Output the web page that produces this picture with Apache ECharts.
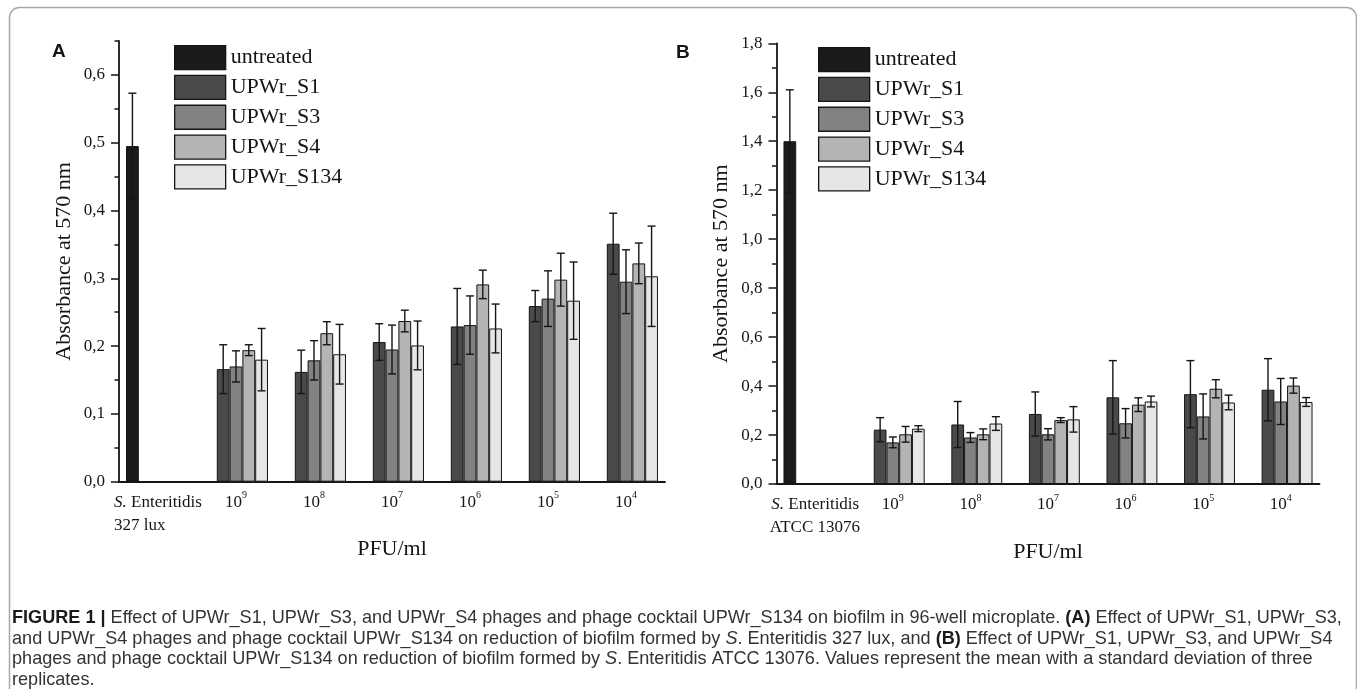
<!DOCTYPE html>
<html>
<head>
<meta charset="utf-8">
<title>Biofilm reduction</title>
<script src="https://cdn.jsdelivr.net/npm/echarts@6/dist/echarts.min.js"></script>
<style>
html, body { margin: 0; padding: 0; background: #fff; }
#main { width: 1357px; height: 689px; }
</style>
</head>
<body>
<div id="main"></div>
<script>
// series names and fill colours (untreated first, it takes the first slot of every group)
var seriesNames = ['untreated', 'UPWr_S1', 'UPWr_S3', 'UPWr_S4', 'UPWr_S134'];
var seriesColors = ['#1b1b1b', '#4a4a4a', '#828282', '#b4b4b4', '#e6e6e6'];

var categoriesA = ['S. Enteritidis\n327 lux', '10^9', '10^8', '10^7', '10^6', '10^5', '10^4'];
var categoriesB = ['S. Enteritidis\nATCC 13076', '10^9', '10^8', '10^7', '10^6', '10^5', '10^4'];

var yTicksA = [0, 0.1, 0.2, 0.3, 0.4, 0.5, 0.6];
var yTicksB = [0, 0.2, 0.4, 0.6, 0.8, 1.0, 1.2, 1.4, 1.6, 1.8];
var yMaxA = 0.65;
var yMaxB = 1.8;

// panel A - S. Enteritidis 327 lux (means)
var untreatedA = [0.495, null, null, null, null, null, null];
var s1A   = [null, 0.166, 0.162, 0.206, 0.229, 0.259, 0.351];
var s3A   = [null, 0.170, 0.179, 0.195, 0.231, 0.270, 0.295];
var s4A   = [null, 0.194, 0.219, 0.237, 0.291, 0.298, 0.322];
var s134A = [null, 0.180, 0.188, 0.201, 0.226, 0.267, 0.303];
// panel A standard deviations
var untreatedAErr = [0.078, null, null, null, null, null, null];
var s1AErr   = [null, 0.036, 0.032, 0.027, 0.056, 0.023, 0.045];
var s3AErr   = [null, 0.023, 0.029, 0.036, 0.043, 0.041, 0.047];
var s4AErr   = [null, 0.008, 0.017, 0.016, 0.021, 0.039, 0.030];
var s134AErr = [null, 0.046, 0.044, 0.036, 0.036, 0.057, 0.074];

// panel B - S. Enteritidis ATCC 13076 (means)
var untreatedB = [1.400, null, null, null, null, null, null];
var s1B   = [null, 0.222, 0.243, 0.286, 0.354, 0.367, 0.385];
var s3B   = [null, 0.170, 0.190, 0.203, 0.248, 0.276, 0.337];
var s4B   = [null, 0.203, 0.203, 0.261, 0.324, 0.389, 0.402];
var s134B = [null, 0.226, 0.247, 0.264, 0.337, 0.333, 0.335];
// panel B standard deviations
var untreatedBErr = [0.210, null, null, null, null, null, null];
var s1BErr   = [null, 0.049, 0.094, 0.090, 0.150, 0.137, 0.127];
var s3BErr   = [null, 0.022, 0.020, 0.023, 0.060, 0.092, 0.094];
var s4BErr   = [null, 0.032, 0.022, 0.010, 0.028, 0.037, 0.031];
var s134BErr = [null, 0.012, 0.028, 0.052, 0.022, 0.030, 0.018];

var SERIF = '"Liberation Serif", "Times New Roman", serif';
var SANS = '"Liberation Sans", Arial, sans-serif';
var INK = '#151515';
var BAR_GAP = 0.18;
var LABEL_SIZE = 17;

var chart = echarts.init(document.getElementById('main'));
var measureCtx = document.createElement('canvas').getContext('2d');

function textWidth(font, s) {
	measureCtx.font = font;
	return measureCtx.measureText(s).width;
}

function barValues(arr) {
	return arr.map(function(v) { return v == null ? '-' : v; });
}

function errorData(means, errs) {
	var out = [];
	means.forEach(function(arr, s) {
		arr.forEach(function(m, c) {
			if (m == null) return;
			out.push([c, s, m - errs[s][c], m + errs[s][c]]);
		});
	});
	return out;
}

function renderError(params, api) {
	var c = api.value(0), s = api.value(1);
	var band = api.size([1, 0])[0];
	var groupW = band * (1 - BAR_GAP);
	var barW = groupW / seriesNames.length;
	var x = api.coord([c, 0])[0] - groupW / 2 + (s + 0.5) * barW;
	var lo = api.coord([c, api.value(2)])[1];
	var hi = api.coord([c, api.value(3)])[1];
	var st = { stroke: INK, lineWidth: 1.4 };
	return {
		type: 'group',
		children: [
			{ type: 'line', shape: { x1: x, y1: lo, x2: x, y2: hi }, style: st },
			{ type: 'line', shape: { x1: x - 4, y1: hi, x2: x + 4, y2: hi }, style: st },
			{ type: 'line', shape: { x1: x - 4, y1: lo, x2: x + 4, y2: lo }, style: st }
		]
	};
}

// strain label: italic "S.", second line left aligned under the first
function strainWidth(cats) {
	var w = 0;
	cats.forEach(function(v) {
		if (v.indexOf('\n') < 0) return;
		var lines = v.split('\n');
		var first = textWidth('italic ' + LABEL_SIZE + 'px ' + SERIF, 'S.') +
			textWidth(LABEL_SIZE + 'px ' + SERIF, lines[0].replace(/^S\./, ''));
		w = Math.max(w, first, textWidth(LABEL_SIZE + 'px ' + SERIF, lines[1]));
	});
	return Math.ceil(w);
}

function categoryLabel(v) {
	if (v.indexOf('^') > 0) {
		var p = v.split('^');
		return '{n|' + p[0] + '}{sup|' + p[1] + '}';
	}
	var lines = v.split('\n');
	return '{it|S.}{n|' + lines[0].replace(/^S\./, '') + '}\n{l2|' + lines[1] + '}';
}

function commaLabel(v) {
	return v.toFixed(1).replace('.', ',');
}

function labelRich(cats) {
	return {
		n: { fontFamily: SERIF, fontSize: LABEL_SIZE, color: INK, lineHeight: 23 },
		it: { fontFamily: SERIF, fontSize: LABEL_SIZE, fontStyle: 'italic', color: INK, lineHeight: 23 },
		l2: { fontFamily: SERIF, fontSize: LABEL_SIZE, color: INK, lineHeight: 23,
			width: strainWidth(cats), align: 'left' },
		sup: { fontFamily: SERIF, fontSize: 10, color: INK, lineHeight: 13, verticalAlign: 'top' }
	};
}

var layouts = [
	{ grid: { left: 119, top: 41, width: 546, height: 440.7 }, legend: { left: 169, top: 40 } },
	{ grid: { left: 776.5, top: 43.3, width: 543, height: 440.7 }, legend: { left: 813, top: 42 } }
];

var panels = [
	{ cats: categoriesA, ticks: yTicksA, max: yMaxA,
	  means: [untreatedA, s1A, s3A, s4A, s134A],
	  errs: [untreatedAErr, s1AErr, s3AErr, s4AErr, s134AErr] },
	{ cats: categoriesB, ticks: yTicksB, max: yMaxB,
	  means: [untreatedB, s1B, s3B, s4B, s134B],
	  errs: [untreatedBErr, s1BErr, s3BErr, s4BErr, s134BErr] }
];

var grids = [], xAxes = [], yAxes = [], legends = [], series = [];

panels.forEach(function(p, i) {
	var step = p.ticks[1] - p.ticks[0];
	grids.push(layouts[i].grid);

	// main category axis: long ticks under the labels
	xAxes.push({
		type: 'category', gridIndex: i, data: p.cats,
		axisLine: { lineStyle: { color: INK, width: 1.8 } },
		axisTick: { alignWithLabel: true, length: 8, interval: 0, lineStyle: { color: INK, width: 1.5 } },
		axisLabel: { interval: 0, margin: 9, formatter: categoryLabel, rich: labelRich(p.cats) },
		name: 'PFU/ml', nameLocation: 'middle', nameGap: 49,
		nameTextStyle: { fontFamily: SERIF, fontSize: 22, color: INK }
	});
	// short ticks between categories
	xAxes.push({
		type: 'category', gridIndex: i, data: p.cats, position: 'bottom',
		axisLine: { show: false }, axisLabel: { show: false },
		axisTick: { length: 4.5, interval: 0, lineStyle: { color: INK, width: 1.5 } }
	});

	yAxes.push({
		type: 'value', gridIndex: i, min: p.ticks[0], max: p.max, interval: step,
		axisLine: { show: true, lineStyle: { color: INK, width: 1.8 } },
		axisTick: { show: true, length: 8, lineStyle: { color: INK, width: 1.5 } },
		axisLabel: { margin: 14, formatter: commaLabel, showMaxLabel: p.max === p.ticks[p.ticks.length - 1],
			fontFamily: SERIF, fontSize: LABEL_SIZE, color: INK },
		splitLine: { show: false },
		name: 'Absorbance at 570 nm', nameLocation: 'middle', nameGap: 44,
		nameTextStyle: { fontFamily: SERIF, fontSize: 22, color: INK }
	});
	yAxes.push({
		type: 'value', gridIndex: i, min: p.ticks[0], max: p.max, interval: step / 2, position: 'left',
		axisLine: { show: false }, axisLabel: { show: false }, splitLine: { show: false },
		axisTick: { show: true, length: 4.5, lineStyle: { color: INK, width: 1.5 } }
	});

	legends.push({
		left: layouts[i].legend.left, top: layouts[i].legend.top, orient: 'vertical',
		icon: 'rect', itemWidth: 51, itemHeight: 24, itemGap: 4.5, selectedMode: false,
		itemStyle: { borderColor: INK, borderWidth: 1.3 },
		data: seriesNames,
		textStyle: { fontFamily: SERIF, fontSize: 22, color: INK, lineHeight: 24 }
	});

	p.means.forEach(function(arr, s) {
		series.push({
			type: 'bar', name: seriesNames[s],
			xAxisIndex: 2 * i, yAxisIndex: 2 * i,
			data: barValues(arr),
			barGap: '0%', barCategoryGap: (BAR_GAP * 100) + '%',
			itemStyle: { color: seriesColors[s], borderColor: INK, borderWidth: 1 },
			emphasis: { disabled: true }
		});
	});

	series.push({
		type: 'custom', name: 'sd' + i,
		xAxisIndex: 2 * i, yAxisIndex: 2 * i,
		renderItem: renderError,
		encode: { x: 0, y: [2, 3] },
		data: errorData(p.means, p.errs),
		z: 5, silent: true
	});
});

// figure caption, one entry per printed line: [style, text] pieces
var captionLines = [
	[['b', 'FIGURE 1 |'], ['n', ' Effect of UPWr_S1, UPWr_S3, and UPWr_S4 phages and phage cocktail UPWr_S134 on biofilm in 96-well microplate. '], ['b', '(A)'], ['n', ' Effect of UPWr_S1, UPWr_S3,']],
	[['n', 'and UPWr_S4 phages and phage cocktail UPWr_S134 on reduction of biofilm formed by '], ['i', 'S'], ['n', '. Enteritidis 327 lux, and '], ['b', '(B)'], ['n', ' Effect of UPWr_S1, UPWr_S3, and UPWr_S4']],
	[['n', 'phages and phage cocktail UPWr_S134 on reduction of biofilm formed by '], ['i', 'S'], ['n', '. Enteritidis ATCC 13076. Values represent the mean with a standard deviation of three']],
	[['n', 'replicates.']]
];
var CAPTION_LEFT = 12;
var CAPTION_RIGHT = 1343;

function pieceFont(style, size) {
	return (style === 'b' ? 'bold ' : style === 'i' ? 'italic ' : '') + size + 'px ' + SANS;
}

// size the caption so that its first line fills the frame width
var w16 = 0;
captionLines[0].forEach(function(pc) { w16 += textWidth(pieceFont(pc[0], 16), pc[1]); });
var capSize = Math.round(16 * (CAPTION_RIGHT - CAPTION_LEFT) / w16 * 10) / 10;

var caption = captionLines.map(function(line) {
	return line.map(function(pc) { return '{' + pc[0] + '|' + pc[1] + '}'; }).join('');
}).join('\n');

var capFont = { fontFamily: SANS, fontSize: capSize, lineHeight: 20.5 };

chart.setOption({
	animation: false,
	title: [
		{ text: 'A', left: 47, top: 37, textStyle: { fontFamily: SANS, fontWeight: 'bold', fontSize: 19, color: INK } },
		{ text: 'B', left: 671, top: 38, textStyle: { fontFamily: SANS, fontWeight: 'bold', fontSize: 19, color: INK } }
	],
	legend: legends,
	grid: grids,
	xAxis: xAxes,
	yAxis: yAxes,
	series: series,
	graphic: [
		{
			type: 'rect', left: 7, top: 5, silent: true,
			shape: { width: 1347, height: 760, r: 10 },
			style: { fill: 'none', stroke: '#a8a8a8', lineWidth: 1.5 }
		},
		{
			type: 'text', left: CAPTION_LEFT, top: 608, silent: true,
			style: {
				text: caption,
				fill: '#333',
				fontFamily: SANS, fontSize: capSize, lineHeight: 20.5,
				rich: {
					n: echarts.util.extend({ fill: '#333' }, capFont),
					b: echarts.util.extend({ fill: '#1a1a1a', fontWeight: 'bold' }, capFont),
					i: echarts.util.extend({ fill: '#333', fontStyle: 'italic' }, capFont)
				}
			}
		}
	]
});
</script>
</body>
</html>
